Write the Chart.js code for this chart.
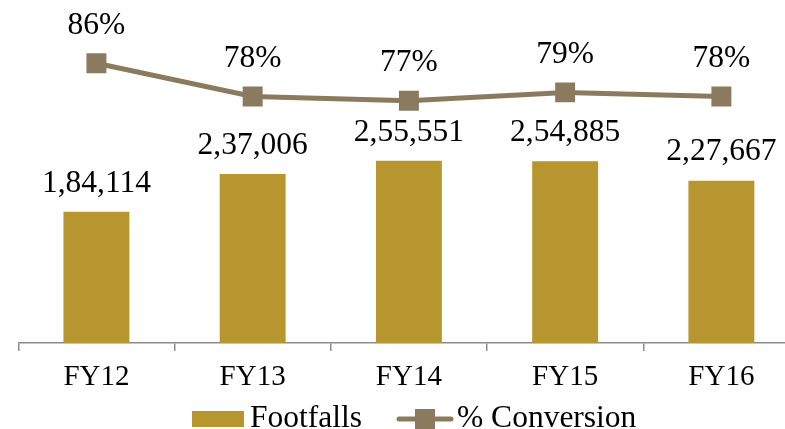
<!DOCTYPE html>
<html>
<head>
<meta charset="utf-8">
<script src="https://cdn.jsdelivr.net/npm/chart.js@4.4.1/dist/chart.umd.min.js"></script>
<style>
  html, body { margin: 0; padding: 0; background: #fff; }
  #wrap { width: 785px; height: 429px; }
</style>
</head>
<body>
<div id="wrap"><canvas id="myChart" width="785" height="429"></canvas></div>
<script>
const categories = ["FY12", "FY13", "FY14", "FY15", "FY16"];
const footfalls = [184114, 237006, 255551, 254885, 227667];
const footfallLabels = ["1,84,114", "2,37,006", "2,55,551", "2,54,885", "2,27,667"];
const conversion = [86, 78, 77, 79, 78];
const conversionLabels = ["86%", "78%", "77%", "79%", "78%"];

const colors = {
  bar: "#B8962F",
  line: "#8B7B5E",
  axis: "#8C8C8C"
};
const serif = "'Liberation Serif', 'Times New Roman', serif";

// the plot area in the original runs a bit past the right edge of the image
const extendRight = {
  id: "extendRight",
  afterLayout(chart) {
    const x = chart.scales.x;
    const right = chart.width + 14.5;
    x.right = right;
    x.width = right - x.left;
    x.configure();
    chart.chartArea.right = right;
    chart.chartArea.width = right - chart.chartArea.left;
  }
};

// value labels above bars and points
const valueLabels = {
  id: "valueLabels",
  afterDatasetsDraw(chart) {
    const ctx = chart.ctx;
    ctx.save();
    ctx.font = "31.5px " + serif;
    ctx.fillStyle = "#000";
    ctx.textAlign = "center";
    ctx.textBaseline = "middle";
    chart.getDatasetMeta(0).data.forEach((el, i) => {
      ctx.fillText(footfallLabels[i], el.x, el.y - 28.5);
    });
    chart.getDatasetMeta(1).data.forEach((el, i) => {
      ctx.fillText(conversionLabels[i], el.x, el.y - 38);
    });
    ctx.restore();
  }
};

// legend drawn by hand so the line entry can show line + marker
const customLegend = {
  id: "customLegend",
  afterDraw(chart) {
    const ctx = chart.ctx;
    const y = 419;
    ctx.save();
    ctx.font = "31.5px " + serif;
    ctx.textBaseline = "middle";
    ctx.fillStyle = colors.bar;
    ctx.fillRect(192, y - 8, 52, 16);
    ctx.fillStyle = "#000";
    ctx.fillText("Footfalls", 250, y);

    ctx.strokeStyle = colors.line;
    ctx.lineWidth = 5;
    ctx.lineCap = "round";
    ctx.beginPath();
    ctx.moveTo(399, y);
    ctx.lineTo(451, y);
    ctx.stroke();
    ctx.fillStyle = colors.line;
    ctx.fillRect(415, y - 10, 20, 20);
    ctx.fillStyle = "#000";
    ctx.fillText("% Conversion", 457, y);
    ctx.restore();
  }
};

const ctx = document.getElementById("myChart").getContext("2d");
new Chart(ctx, {
  type: "bar",
  data: {
    labels: categories,
    datasets: [
      {
        type: "bar",
        label: "Footfalls",
        data: footfalls,
        backgroundColor: colors.bar,
        categoryPercentage: 1,
        barPercentage: 0.422,
        yAxisID: "y",
        order: 2
      },
      {
        type: "line",
        label: "% Conversion",
        data: conversion,
        borderColor: colors.line,
        backgroundColor: colors.line,
        borderWidth: 5,
        pointStyle: "rect",
        pointRadius: 14.1,
        pointBorderWidth: 0,
        tension: 0,
        yAxisID: "y1",
        order: 1
      }
    ]
  },
  options: {
    responsive: false,
    animation: false,
    layout: { padding: { left: 18.3, right: 0, top: 22.2, bottom: 25.2 } },
    plugins: {
      legend: { display: false },
      tooltip: { enabled: false }
    },
    scales: {
      x: {
        offset: true,
        grid: {
          offset: true,
          drawOnChartArea: false,
          drawTicks: true,
          tickLength: 8,
          color: colors.axis,
          lineWidth: 1.5
        },
        border: { display: true, color: colors.axis, width: 1.5 },
        ticks: { color: "#000", font: { family: serif, size: 29 }, padding: 9 }
      },
      y: { display: false, min: 0, max: 450000 },
      y1: { display: false, min: 18.8, max: 95.86 }
    }
  },
  plugins: [extendRight, valueLabels, customLegend]
});
</script>
</body>
</html>
